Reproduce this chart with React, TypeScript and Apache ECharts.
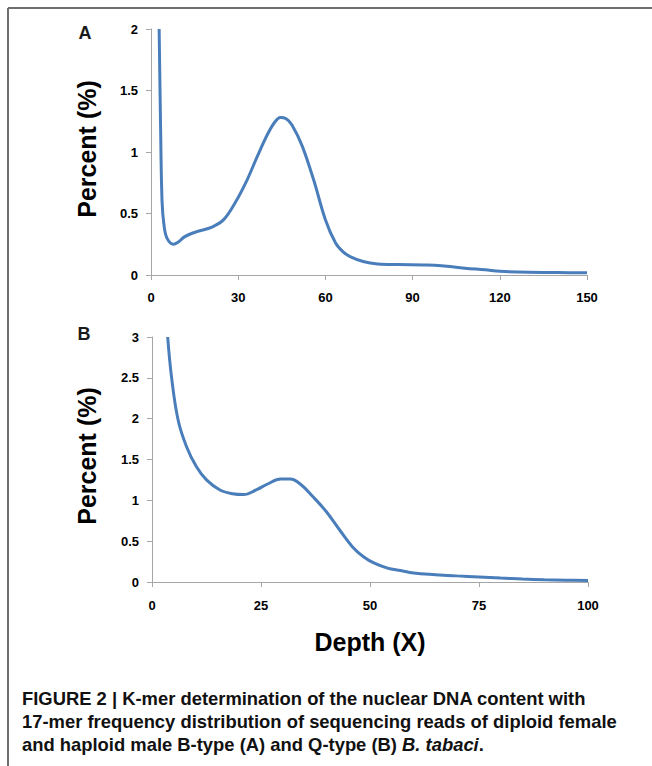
import React, { useEffect, useRef } from "react";
import * as echarts from "echarts";

// Panel A (B-type)
const depthA = [2.8, 3.3, 3.8, 4.5, 5.5, 7.7, 9.5, 11.5, 15.5, 21, 25, 29, 33, 36.5, 40, 42.5, 44.5, 46.5, 48.5, 52, 56, 60, 63.5, 66, 68.5, 73, 78, 85, 95, 100, 108, 115, 120, 130, 140, 150];
const percentA = [2.0, 1.2, 0.6, 0.4, 0.3, 0.25, 0.27, 0.31, 0.35, 0.39, 0.45, 0.59, 0.77, 0.96, 1.14, 1.24, 1.28, 1.27, 1.22, 1.05, 0.77, 0.45, 0.26, 0.19, 0.15, 0.11, 0.09, 0.085, 0.082, 0.075, 0.055, 0.042, 0.03, 0.022, 0.02, 0.018];

// Panel B (Q-type)
const depthB = [3.6, 4.5, 6, 7.9, 10.2, 12.5, 15.5, 18.5, 21, 24, 26.5, 29.5, 31.7, 34, 37, 40, 43, 46, 48.5, 51, 54, 57, 60, 65, 70, 75, 80, 85, 90, 95, 100];
const percentB = [3.0, 2.5, 1.98, 1.66, 1.41, 1.25, 1.13, 1.08, 1.07, 1.13, 1.2, 1.26, 1.26, 1.2, 1.04, 0.86, 0.64, 0.43, 0.31, 0.23, 0.17, 0.14, 0.11, 0.09, 0.075, 0.062, 0.048, 0.037, 0.028, 0.022, 0.018];

// Axis ranges / ticks
const xTicksA = { min: 0, max: 150, interval: 30 };
const yTicksA = { min: 0, max: 2, interval: 0.5 };
const xTicksB = { min: 0, max: 100, interval: 25 };
const yTicksB = { min: 0, max: 3, interval: 0.5 };

const panelLabels = ["A", "B"];
const yTitle = "Percent (%)";
const xTitle = "Depth (X)";
const captionLines = [
  "FIGURE 2 | K-mer determination of the nuclear DNA content with",
  "17-mer frequency distribution of sequencing reads of diploid female",
  "and haploid male B-type (A) and Q-type (B) ",
];
const captionItalic = "B. tabaci";

const LINE = "#4a7ebb";
const AXIS = "#a6a6a6";
const FONT = "'Liberation Sans', Arial, Helvetica, sans-serif";

function zip(xs: number[], ys: number[]) {
  return xs.map((x, i) => [x, ys[i]]);
}

export default function App() {
  const ref = useRef<HTMLDivElement>(null);
  useEffect(() => {
    document.body.style.margin = "0";
    if (!ref.current) return;
    const chart = echarts.init(ref.current, undefined, { renderer: "svg" });
    const axisCommon = {
      type: "value" as const,
      splitLine: { show: false },
      axisLine: { show: true, lineStyle: { color: AXIS, width: 1 } },
      axisTick: { show: true, length: 5, lineStyle: { color: AXIS } },
    };
    const xLabel = (margin: number) => ({
      margin,
      color: "#000",
      fontFamily: FONT,
      fontWeight: "bold" as const,
      fontSize: 13,
    });
    const yLabel = {
      margin: 13,
      color: "#000",
      fontFamily: FONT,
      fontWeight: "bold" as const,
      fontSize: 13,
    };
    chart.setOption({
      animation: false,
      grid: [
        { left: 151, top: 29, width: 436, height: 246 },
        { left: 152, top: 337, width: 436, height: 245 },
      ],
      xAxis: [
        { ...axisCommon, gridIndex: 0, ...xTicksA, axisLabel: xLabel(16) },
        { ...axisCommon, gridIndex: 1, ...xTicksB, axisLabel: xLabel(17) },
      ],
      yAxis: [
        { ...axisCommon, gridIndex: 0, ...yTicksA, axisLabel: yLabel },
        { ...axisCommon, gridIndex: 1, ...yTicksB, axisLabel: yLabel },
      ],
      series: [
        {
          type: "line",
          xAxisIndex: 0,
          yAxisIndex: 0,
          data: zip(depthA, percentA),
          showSymbol: false,
          smooth: 0.35,
          lineStyle: { color: LINE, width: 3 },
        },
        {
          type: "line",
          xAxisIndex: 1,
          yAxisIndex: 1,
          data: zip(depthB, percentB),
          showSymbol: false,
          smooth: 0.4,
          lineStyle: { color: LINE, width: 3 },
        },
      ],
      graphic: [
        { type: "line", shape: { x1: 8, y1: 8, x2: 652, y2: 8 }, style: { stroke: "#6e6e6e", lineWidth: 2 } },
        { type: "line", shape: { x1: 8, y1: 8, x2: 8, y2: 766 }, style: { stroke: "#6e6e6e", lineWidth: 2 } },
        { type: "text", x: 85, y: 33, style: { text: panelLabels[0], font: `bold 18px ${FONT}`, fill: "#1a1a1a", align: "center", verticalAlign: "middle" } },
        { type: "text", x: 84, y: 334, style: { text: panelLabels[1], font: `bold 18px ${FONT}`, fill: "#1a1a1a", align: "center", verticalAlign: "middle" } },
        { type: "text", x: 87, y: 149, rotation: Math.PI / 2, style: { text: yTitle, font: `bold 25px ${FONT}`, fill: "#000", align: "center", verticalAlign: "middle" } },
        { type: "text", x: 87, y: 456, rotation: Math.PI / 2, style: { text: yTitle, font: `bold 25px ${FONT}`, fill: "#000", align: "center", verticalAlign: "middle" } },
        { type: "text", x: 370, y: 642, style: { text: xTitle, font: `bold 25px ${FONT}`, fill: "#000", align: "center", verticalAlign: "middle" } },
        { type: "text", x: 22, y: 698, style: { text: captionLines[0], font: `bold 18.4px ${FONT}`, fill: "#111", verticalAlign: "middle" } },
        { type: "text", x: 22, y: 721, style: { text: captionLines[1], font: `bold 18.4px ${FONT}`, fill: "#111", verticalAlign: "middle" } },
        {
          type: "text",
          x: 22,
          y: 744,
          style: {
            text: `{b|${captionLines[2]}}{i|${captionItalic}}{b|.}`,
            verticalAlign: "middle",
            rich: {
              b: { font: `bold 18.4px ${FONT}`, fill: "#111" },
              i: { font: `italic bold 18.4px ${FONT}`, fill: "#111" },
            },
          },
        },
      ],
    });
    return () => chart.dispose();
  }, []);
  return <div ref={ref} style={{ width: 652, height: 766 }} />;
}
